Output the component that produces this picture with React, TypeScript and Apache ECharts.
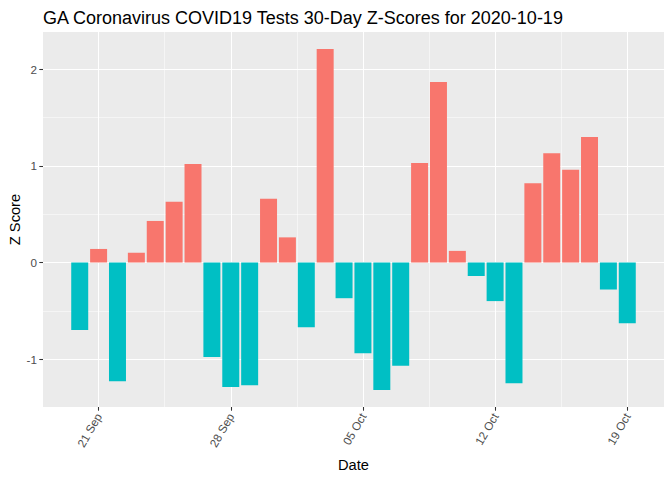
import React, { useEffect, useRef } from "react";
import * as echarts from "echarts";

const dates = [
  "2020-09-20", "2020-09-21", "2020-09-22", "2020-09-23", "2020-09-24",
  "2020-09-25", "2020-09-26", "2020-09-27", "2020-09-28", "2020-09-29",
  "2020-09-30", "2020-10-01", "2020-10-02", "2020-10-03", "2020-10-04",
  "2020-10-05", "2020-10-06", "2020-10-07", "2020-10-08", "2020-10-09",
  "2020-10-10", "2020-10-11", "2020-10-12", "2020-10-13", "2020-10-14",
  "2020-10-15", "2020-10-16", "2020-10-17", "2020-10-18", "2020-10-19",
];

const zScores = [
  -0.70, 0.14, -1.23, 0.10, 0.43, 0.63, 1.02, -0.98, -1.29, -1.27,
  0.66, 0.26, -0.67, 2.21, -0.37, -0.94, -1.32, -1.07, 1.03, 1.87,
  0.12, -0.14, -0.40, -1.25, 0.82, 1.13, 0.96, 1.30, -0.28, -0.63,
];

const tickDates = ["2020-09-21", "2020-09-28", "2020-10-05", "2020-10-12", "2020-10-19"];
const tickLabels = ["21 Sep", "28 Sep", "05 Oct", "12 Oct", "19 Oct"];
const yTicks = [-1, 0, 1, 2];

const POS = "#F8766D";
const NEG = "#00BFC4";

export default function App() {
  const ref = useRef<HTMLDivElement>(null);

  useEffect(() => {
    if (!ref.current) return;
    const chart = echarts.init(ref.current, undefined, { renderer: "svg" });

    const W = 672;
    const gridLeft = 43;
    const gridRight = 8;
    const gridTop = 32;
    const gridBottom = 73;

    const barFrac = 0.9;
    const xLo = -barFrac / 2;
    const xHi = dates.length - 1 + barFrac / 2;
    const xPad = (xHi - xLo) * 0.05;
    const xMin = xLo - xPad;
    const xMax = xHi + xPad;

    const dMax = Math.max(0, ...zScores);
    const dMin = Math.min(0, ...zScores);
    const yPad = (dMax - dMin) * 0.05;
    const yMin = dMin - yPad;
    const yMax = dMax + yPad;

    const xMajor = tickDates.map((d) => dates.indexOf(d));
    const xMinor: number[] = [];
    for (let i = 0; i < xMajor.length - 1; i++) xMinor.push((xMajor[i] + xMajor[i + 1]) / 2);
    const yMinor: number[] = [];
    for (let i = 0; i < yTicks.length - 1; i++) yMinor.push((yTicks[i] + yTicks[i + 1]) / 2);

    const pxPerDay = (W - gridLeft - gridRight) / (xMax - xMin);

    const font = "Liberation Sans, Arial, sans-serif";
    const axisText = { color: "#4D4D4D", fontSize: 11.7, fontFamily: font };

    chart.setOption({
      animation: false,
      backgroundColor: "#FFFFFF",
      title: {
        text: "GA Coronavirus COVID19 Tests 30-Day Z-Scores for 2020-10-19",
        left: gridLeft,
        top: 9,
        padding: 0,
        textStyle: { color: "#000000", fontSize: 18, fontWeight: "normal", fontFamily: font },
      },
      grid: {
        left: gridLeft,
        right: gridRight,
        top: gridTop,
        bottom: gridBottom,
        show: true,
        backgroundColor: "#EBEBEB",
        borderWidth: 0,
        containLabel: false,
        outerBoundsMode: "none",
      },
      xAxis: [
        {
          type: "value",
          min: xMin,
          max: xMax,
          name: "Date",
          nameLocation: "middle",
          nameGap: 50,
          nameMoveOverlap: false,
          nameTextStyle: { color: "#000000", fontSize: 14.67, fontFamily: font },
          axisLine: { show: false, onZero: false },
          axisTick: { show: true, length: 3.7, customValues: xMajor, lineStyle: { color: "#333333", width: 1.07 } },
          axisLabel: {
            show: true,
            customValues: xMajor,
            rotate: 60,
            margin: 7,
            ...axisText,
            formatter: (v: number) => {
              const k = xMajor.indexOf(Math.round(v));
              return k >= 0 ? tickLabels[k] : "";
            },
          },
          splitLine: { show: true, lineStyle: { color: "#FFFFFF", width: 1.07 } },
        },
        {
          type: "value",
          min: xMin,
          max: xMax,
          position: "bottom",
          axisLine: { show: false, onZero: false },
          axisTick: { show: false, customValues: xMinor },
          axisLabel: { show: false, customValues: xMinor },
          splitLine: { show: true, lineStyle: { color: "#FFFFFF", width: 0.53 } },
        },
      ],
      yAxis: [
        {
          type: "value",
          min: yMin,
          max: yMax,
          name: "Z Score",
          nameLocation: "middle",
          nameGap: 21,
          nameRotate: 90,
          nameMoveOverlap: false,
          nameTextStyle: { color: "#000000", fontSize: 14.67, fontFamily: font },
          axisLine: { show: false, onZero: false },
          axisTick: { show: true, length: 3.7, customValues: yTicks, lineStyle: { color: "#333333", width: 1.07 } },
          axisLabel: { show: true, customValues: yTicks, margin: 6, ...axisText, formatter: (v: number) => String(Math.round(v)) },
          splitLine: { show: true, lineStyle: { color: "#FFFFFF", width: 1.07 } },
        },
        {
          type: "value",
          min: yMin,
          max: yMax,
          position: "left",
          axisLine: { show: false, onZero: false },
          axisTick: { show: false, customValues: yMinor },
          axisLabel: { show: false, customValues: yMinor },
          splitLine: { show: true, lineStyle: { color: "#FFFFFF", width: 0.53 } },
        },
      ],
      series: [
        {
          type: "bar",
          xAxisIndex: 0,
          yAxisIndex: 0,
          barWidth: pxPerDay * barFrac,
          z: 3,
          data: zScores.map((v, i) => ({
            value: [i, v],
            itemStyle: { color: v >= 0 ? POS : NEG },
          })),
        },
      ],
    });

    return () => chart.dispose();
  }, []);

  return <div ref={ref} style={{ position: "fixed", left: 0, top: 0, width: 672, height: 480 }} />;
}
